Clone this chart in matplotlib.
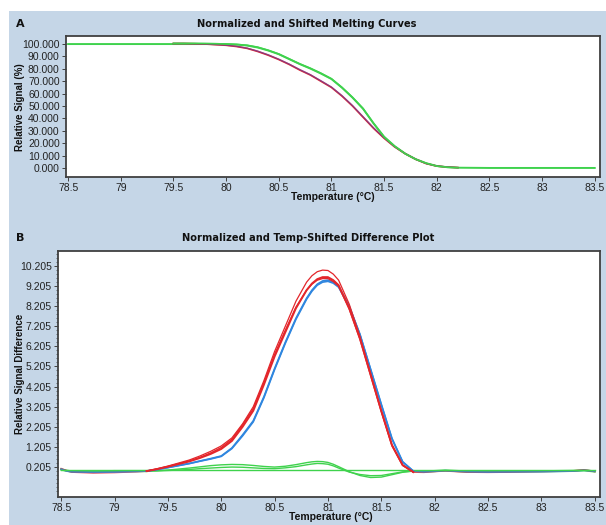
import numpy as np
import matplotlib.pyplot as plt
from matplotlib.patches import Rectangle
from matplotlib.ticker import FixedLocator, MultipleLocator, FormatStrFormatter

# --- Panel A: normalized and shifted melting curves (% signal) ---
melt_temp = [79.5, 79.6, 79.7, 79.8, 79.9, 80.0, 80.1, 80.2, 80.3, 80.4, 80.5,
             80.6, 80.7, 80.8, 80.9, 81.0, 81.1, 81.2, 81.3, 81.4, 81.5, 81.6,
             81.7, 81.8, 81.9, 82.0, 82.1, 82.2]
melt_red = [100.5, 100.5, 100.3, 100.0, 99.5, 99.0, 98.0, 96.5, 94.0, 91.0, 87.5,
            83.5, 79.0, 75.0, 70.0, 65.0, 58.0, 50.0, 41.0, 32.0, 24.0, 17.0,
            11.5, 7.0, 3.5, 1.5, 0.7, 0.3]
melt_blue = [100.4, 100.4, 100.2, 100.0, 99.6, 99.1, 98.2, 96.7, 94.3, 91.3, 87.8,
             83.8, 79.4, 75.3, 70.4, 65.3, 58.4, 50.4, 41.4, 32.4, 24.3, 17.2,
             11.6, 7.1, 3.6, 1.6, 0.8, 0.3]
melt_green2 = [100.6, 100.6, 100.6, 100.5, 100.3, 100.0, 99.7, 99.0, 97.5, 95.0, 92.0,
               88.0, 84.0, 80.5, 76.5, 72.0, 65.0, 57.0, 48.0, 36.0, 25.0, 17.5,
               11.5, 7.0, 3.8, 1.5, 0.6, 0.2]
green_temp = [78.5, 79.5, 80.0, 80.1, 80.2, 80.3, 80.4, 80.5, 80.6, 80.7, 80.8,
              80.9, 81.0, 81.1, 81.2, 81.3, 81.4, 81.5, 81.6, 81.7, 81.8, 81.9,
              82.0, 82.1, 82.2, 82.5, 83.0, 83.5]
melt_green = [100.0, 100.0, 100.0, 99.6, 98.8, 97.2, 94.8, 91.8, 87.8, 83.8, 80.2,
              76.2, 71.8, 64.8, 56.8, 47.8, 36.0, 25.2, 17.6, 11.6, 7.1, 3.8,
              1.6, 0.6, 0.2, 0.0, 0.0, 0.0]

# --- Panel B: temperature-shifted difference curves ---
peak_temp = [79.3, 79.4, 79.5, 79.6, 79.7, 79.8, 79.9, 80.0, 80.1, 80.2, 80.3,
             80.4, 80.5, 80.6, 80.7, 80.8, 80.85, 80.9, 80.95, 81.0, 81.05, 81.1,
             81.2, 81.3, 81.4, 81.5, 81.6, 81.7, 81.8]
diff_red1 = [0.0, 0.12, 0.25, 0.4, 0.55, 0.75, 0.98, 1.25, 1.65, 2.35, 3.2,
             4.5, 5.95, 7.2, 8.45, 9.4, 9.72, 9.92, 10.0, 9.98, 9.8, 9.5,
             8.3, 6.7, 4.85, 3.0, 1.3, 0.3, -0.05]
diff_red2 = [0.0, 0.1, 0.22, 0.35, 0.48, 0.65, 0.85, 1.1, 1.5, 2.2, 3.0,
             4.3, 5.7, 6.9, 8.1, 9.0, 9.33, 9.55, 9.65, 9.65, 9.5, 9.25,
             8.1, 6.6, 4.8, 3.0, 1.3, 0.3, -0.05]
diff_red3 = [0.0, 0.1, 0.22, 0.36, 0.5, 0.68, 0.9, 1.17, 1.58, 2.3, 3.1,
             4.4, 5.8, 7.0, 8.15, 9.0, 9.3, 9.5, 9.58, 9.58, 9.43, 9.2,
             8.05, 6.55, 4.75, 2.95, 1.25, 0.28, -0.05]
diff_blue1 = [0.0, 0.08, 0.18, 0.28, 0.38, 0.5, 0.62, 0.75, 1.15, 1.8, 2.5,
              3.7, 5.1, 6.4, 7.6, 8.6, 9.0, 9.3, 9.46, 9.5, 9.4, 9.2,
              8.2, 6.8, 5.05, 3.3, 1.6, 0.45, 0.0]
diff_blue2 = [0.0, 0.08, 0.17, 0.27, 0.37, 0.49, 0.6, 0.73, 1.12, 1.75, 2.45,
              3.65, 5.05, 6.35, 7.55, 8.55, 8.95, 9.25, 9.4, 9.44, 9.35, 9.15,
              8.18, 6.8, 5.07, 3.33, 1.63, 0.47, 0.0]
diff_green1 = [0.0, 0.02, 0.05, 0.1, 0.15, 0.21, 0.27, 0.31, 0.33, 0.32, 0.28,
               0.23, 0.2, 0.24, 0.32, 0.42, 0.46, 0.48, 0.47, 0.43, 0.34, 0.22,
               -0.03, -0.22, -0.32, -0.3, -0.18, -0.06, 0.0]
diff_green2 = [0.0, 0.01, 0.03, 0.05, 0.08, 0.12, 0.15, 0.18, 0.2, 0.19, 0.16,
               0.13, 0.12, 0.16, 0.22, 0.31, 0.35, 0.38, 0.37, 0.34, 0.26, 0.15,
               -0.05, -0.17, -0.23, -0.22, -0.13, -0.04, 0.0]

# baseline (noise) before and after the peak region
pre_temp = [78.5, 78.55, 78.6, 78.8, 79.0, 79.2, 79.3]
pre_red = [0.12, 0.02, -0.05, -0.09, -0.07, -0.03, 0.0]
pre_blue = [0.1, 0.0, -0.04, -0.06, -0.05, -0.02, 0.0]
pre_green = [0.08, 0.02, -0.02, -0.02, 0.0, 0.0, 0.0]
post_temp = [81.8, 81.9, 82.0, 82.1, 82.3, 82.5, 82.7, 83.0, 83.3, 83.4, 83.5]
post_red = [-0.05, -0.06, -0.02, 0.01, -0.05, -0.06, -0.05, -0.02, 0.01, 0.06, -0.02]
post_blue = [0.0, -0.04, -0.01, 0.02, -0.03, -0.05, -0.04, -0.03, 0.0, 0.04, -0.01]
post_green = [0.0, -0.02, 0.0, 0.03, -0.02, -0.03, -0.02, -0.01, 0.01, 0.04, -0.02]
flat_temp = [78.5, 83.5]
flat_green = [0.03, 0.03]

RED = '#e3262b'
BLUE = '#2f86df'
GREEN = '#3fd24d'
PURPLE = '#7a3a8c'
BG = '#c5d6e7'

fig = plt.figure(figsize=(6.06, 5.25), dpi=100)
fig.patch.set_facecolor('white')
fig.patches.append(Rectangle((9 / 606, 0), 1, 1 - 11 / 525, transform=fig.transFigure,
                             facecolor=BG, edgecolor='none', zorder=-10))

tick_family = ['Liberation Sans Narrow', 'Liberation Sans']
lab_font = ['Liberation Sans Narrow', 'Liberation Sans']


def style_axes(ax):
    ax.set_facecolor('white')
    for s in ax.spines.values():
        s.set_color('#404040')
        s.set_linewidth(1.3)
    ax.tick_params(direction='out', length=3, width=0.7, color='#404040', pad=1.5)
    for lab in ax.get_xticklabels() + ax.get_yticklabels():
        lab.set_fontfamily(tick_family)
        lab.set_fontsize(7.5)
        lab.set_color('#222222')


# Panel A
axA = fig.add_axes([66 / 606, 1 - 177 / 525, 534 / 606, 141 / 525])
axA.plot(green_temp, melt_green, color=GREEN, lw=1.4)
axA.plot(melt_temp, melt_red, color=RED, lw=1.2)
axA.plot(melt_temp, melt_blue, color=PURPLE, lw=1.0, alpha=0.8)
axA.plot(melt_temp, melt_green2, color=GREEN, lw=1.2)
axA.set_xlim(78.48, 83.55)
axA.set_ylim(-7.3, 106.5)
axA.xaxis.set_major_locator(MultipleLocator(0.5))
axA.xaxis.set_major_formatter(FormatStrFormatter('%g'))
axA.yaxis.set_major_locator(MultipleLocator(10))
axA.yaxis.set_major_formatter(FormatStrFormatter('%.3f'))
style_axes(axA)

# Panel B
axB = fig.add_axes([58 / 606, 1 - 497 / 525, 542 / 606, 246 / 525])
for xs, ys, c in [(pre_temp, pre_green, GREEN), (post_temp, post_green, GREEN)]:
    axB.plot(xs, ys, color=c, lw=1.6)
for xs, ys, c in [(pre_temp, pre_red, RED), (post_temp, post_red, RED),
                  (pre_temp, pre_blue, BLUE), (post_temp, post_blue, BLUE)]:
    axB.plot(xs, ys, color=c, lw=1.2, alpha=0.8)
axB.plot(flat_temp, flat_green, color=GREEN, lw=1.0)
axB.plot(peak_temp, diff_green1, color=GREEN, lw=1.0)
axB.plot(peak_temp, diff_green2, color=GREEN, lw=1.0)
axB.plot(peak_temp, diff_blue1, color=BLUE, lw=1.2)
axB.plot(peak_temp, diff_blue2, color=BLUE, lw=1.2)
axB.plot(peak_temp, diff_red3, color=RED, lw=1.0)
axB.plot(peak_temp, diff_red2, color=RED, lw=1.4)
axB.plot(peak_temp, diff_red1, color=RED, lw=0.9)
axB.set_xlim(78.47, 83.55)
axB.set_ylim(-1.29, 10.95)
axB.xaxis.set_major_locator(MultipleLocator(0.5))
axB.xaxis.set_major_formatter(FormatStrFormatter('%g'))
axB.yaxis.set_major_locator(FixedLocator([0.205 + i for i in range(11)]))
axB.yaxis.set_minor_locator(FixedLocator([0.205 + 0.2 * i for i in range(-6, 54)]))
axB.yaxis.set_major_formatter(FormatStrFormatter('%.3f'))
style_axes(axB)
axB.tick_params(axis='y', which='minor', length=1.5, width=0.5, color='#404040')

# Titles and labels
title_kw = dict(fontfamily='DejaVu Sans', fontweight='bold', fontsize=7.1,
                ha='center', va='center', color='#111111')
fig.text(307 / 606, 1 - 24 / 525, 'Normalized and Shifted Melting Curves', **title_kw)
fig.text(308 / 606, 1 - 238 / 525, 'Normalized and Temp-Shifted Difference Plot', **title_kw)
fig.text(20 / 606, 1 - 24 / 525, 'A', fontfamily='DejaVu Sans', fontweight='bold',
         fontsize=8, ha='center', va='center', color='#111111')
fig.text(20 / 606, 1 - 238 / 525, 'B', fontfamily='DejaVu Sans', fontweight='bold',
         fontsize=8, ha='center', va='center', color='#111111')
lab_kw = dict(fontfamily=lab_font, fontweight='bold', fontsize=7.5,
              ha='center', va='center', color='#111111')
fig.text(333 / 606, 1 - 197 / 525, 'Temperature (°C)', **lab_kw)
fig.text(331 / 606, 1 - 517 / 525, 'Temperature (°C)', **lab_kw)
fig.text(20 / 606, 1 - 107 / 525, 'Relative Signal (%)', rotation=90, fontsize=7,
         **{k: v for k, v in lab_kw.items() if k != 'fontsize'})
fig.text(20 / 606, 1 - 374 / 525, 'Relative Signal Difference', rotation=90, fontsize=7,
         **{k: v for k, v in lab_kw.items() if k != 'fontsize'})

fig.savefig('out.png', dpi=100)
